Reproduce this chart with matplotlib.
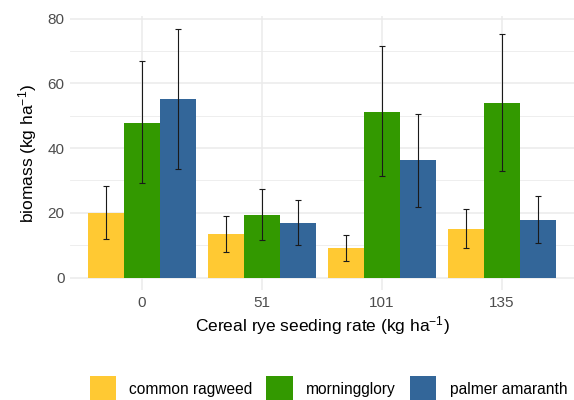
import matplotlib.pyplot as plt
import numpy as np
from matplotlib.patches import Patch

plt.rcParams['font.family'] = ['Liberation Sans', 'DejaVu Sans']
plt.rcParams['mathtext.fontset'] = 'custom'
plt.rcParams['mathtext.rm'] = 'Liberation Sans'
plt.rcParams['mathtext.it'] = 'Liberation Sans'

rates = ['0', '51', '101', '135']
species = ['common ragweed', 'morningglory', 'palmer amaranth']
colors = ['#FFC933', '#339900', '#336699']

ragweed = [20.0, 13.5, 9.0, 15.1]
ragweed_lo = [12.0, 7.9, 5.2, 9.0]
ragweed_hi = [28.4, 18.9, 13.1, 21.3]

glory = [47.9, 19.2, 51.3, 54.0]
glory_lo = [29.1, 11.7, 31.3, 32.9]
glory_hi = [66.9, 27.3, 71.7, 75.4]

amaranth = [55.2, 17.0, 36.2, 17.8]
amaranth_lo = [33.5, 10.1, 21.8, 10.6]
amaranth_hi = [76.9, 23.9, 50.5, 25.1]

means = [ragweed, glory, amaranth]
lows = [ragweed_lo, glory_lo, amaranth_lo]
highs = [ragweed_hi, glory_hi, amaranth_hi]

fig = plt.figure(figsize=(5.74, 4.0), dpi=100)
ax = fig.add_axes([0.122, 0.275, 0.878, 0.685])

x = np.arange(len(rates))
w = 0.3
for i in range(3):
    pos = x + (i - 1) * w
    m = np.array(means[i])
    lo = m - np.array(lows[i])
    hi = np.array(highs[i]) - m
    ax.bar(pos, m, width=w, color=colors[i], zorder=2)
    ax.errorbar(pos, m, yerr=[lo, hi], fmt='none', ecolor='#1a1a1a',
                elinewidth=0.8, capsize=2.5, capthick=0.8, zorder=3)

ax.set_xlim(-0.6, 3.6)
ax.set_ylim(-3.85, 80.85)
ax.set_xticks(x)
ax.set_xticklabels(rates)
ax.set_yticks([0, 20, 40, 60, 80])
ax.set_yticks([10, 30, 50, 70], minor=True)
ax.grid(True, which='major', color='#EBEBEB', linewidth=1.1, zorder=0)
ax.grid(True, which='minor', axis='y', color='#EBEBEB', linewidth=0.6, zorder=0)
ax.set_axisbelow(True)
for s in ax.spines.values():
    s.set_visible(False)
ax.tick_params(which='both', length=0, labelsize=11, labelcolor='#4D4D4D', pad=4)

ax.set_xlabel(r'Cereal rye seeding rate (kg ha$^{-1}$)', fontsize=12.5, labelpad=3)
ax.set_ylabel(r'biomass (kg ha$^{-1}$)', fontsize=12.5, labelpad=6)

handles = [Patch(facecolor=c, edgecolor='none') for c in colors]
fig.legend(handles, species, loc='center', bbox_to_anchor=(0.572, 0.028),
           ncol=3, frameon=False, fontsize=11.2, handlelength=1.7, handleheight=2.2,
           handletextpad=0.85, columnspacing=0.9, borderaxespad=0, borderpad=0)

fig.savefig('out.png', dpi=100)
